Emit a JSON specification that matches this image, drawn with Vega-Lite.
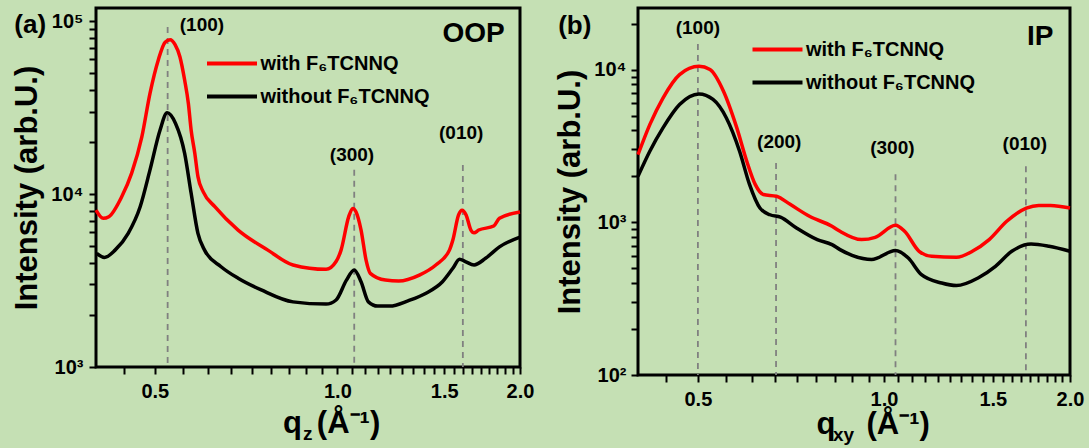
{
"$schema": "https://vega.github.io/schema/vega-lite/v6.json",
"background": "#c5e0b4",
"padding": {"left": 10, "top": 6, "right": 5, "bottom": 5},
"config": {
  "font": "Liberation Sans",
  "view": {"stroke": "#000000", "strokeWidth": 3},
  "axis": {"domain": false, "grid": false, "ticks": true, "tickSize": 7, "tickColor": "#000000", "tickWidth": 2,
    "labelFont": "Liberation Sans", "labelFontSize": 20, "labelFontWeight": "bold", "labelColor": "#000000",
    "labelOverlap": false, "labelBound": false, "labelFlush": false,
    "titleFont": "Liberation Sans", "titleFontSize": 31, "titleFontWeight": "bold", "titleColor": "#000000"},
  "legend": {"labelFont": "Liberation Sans", "labelFontSize": 20, "labelFontWeight": "bold", "labelColor": "#000000", "padding": 0, "labelLimit": 400}
},
"datasets": {
  "oop": [
    {"series": "with F₆TCNNQ", "q": 0.400, "I": 8070},
    {"series": "with F₆TCNNQ", "q": 0.411, "I": 7240},
    {"series": "with F₆TCNNQ", "q": 0.420, "I": 7400},
    {"series": "with F₆TCNNQ", "q": 0.441, "I": 9640},
    {"series": "with F₆TCNNQ", "q": 0.458, "I": 13200},
    {"series": "with F₆TCNNQ", "q": 0.476, "I": 21400},
    {"series": "with F₆TCNNQ", "q": 0.491, "I": 38200},
    {"series": "with F₆TCNNQ", "q": 0.507, "I": 60000},
    {"series": "with F₆TCNNQ", "q": 0.520, "I": 75500},
    {"series": "with F₆TCNNQ", "q": 0.530, "I": 78000},
    {"series": "with F₆TCNNQ", "q": 0.540, "I": 73000},
    {"series": "with F₆TCNNQ", "q": 0.550, "I": 62200},
    {"series": "with F₆TCNNQ", "q": 0.560, "I": 45600},
    {"series": "with F₆TCNNQ", "q": 0.568, "I": 33400},
    {"series": "with F₆TCNNQ", "q": 0.574, "I": 23400},
    {"series": "with F₆TCNNQ", "q": 0.582, "I": 17200},
    {"series": "with F₆TCNNQ", "q": 0.589, "I": 12600},
    {"series": "with F₆TCNNQ", "q": 0.601, "I": 10300},
    {"series": "with F₆TCNNQ", "q": 0.628, "I": 8450},
    {"series": "with F₆TCNNQ", "q": 0.686, "I": 6190},
    {"series": "with F₆TCNNQ", "q": 0.768, "I": 4740},
    {"series": "with F₆TCNNQ", "q": 0.845, "I": 3890},
    {"series": "with F₆TCNNQ", "q": 0.958, "I": 3670},
    {"series": "with F₆TCNNQ", "q": 0.995, "I": 4070},
    {"series": "with F₆TCNNQ", "q": 1.014, "I": 4740},
    {"series": "with F₆TCNNQ", "q": 1.044, "I": 7400},
    {"series": "with F₆TCNNQ", "q": 1.060, "I": 8260},
    {"series": "with F₆TCNNQ", "q": 1.073, "I": 7900},
    {"series": "with F₆TCNNQ", "q": 1.094, "I": 6190},
    {"series": "with F₆TCNNQ", "q": 1.115, "I": 4150},
    {"series": "with F₆TCNNQ", "q": 1.133, "I": 3480},
    {"series": "with F₆TCNNQ", "q": 1.200, "I": 3180},
    {"series": "with F₆TCNNQ", "q": 1.262, "I": 3140},
    {"series": "with F₆TCNNQ", "q": 1.365, "I": 3400},
    {"series": "with F₆TCNNQ", "q": 1.453, "I": 3890},
    {"series": "with F₆TCNNQ", "q": 1.530, "I": 4740},
    {"series": "with F₆TCNNQ", "q": 1.550, "I": 5420},
    {"series": "with F₆TCNNQ", "q": 1.584, "I": 7570},
    {"series": "with F₆TCNNQ", "q": 1.605, "I": 8070},
    {"series": "with F₆TCNNQ", "q": 1.630, "I": 7570},
    {"series": "with F₆TCNNQ", "q": 1.660, "I": 6190},
    {"series": "with F₆TCNNQ", "q": 1.680, "I": 5970},
    {"series": "with F₆TCNNQ", "q": 1.710, "I": 6190},
    {"series": "with F₆TCNNQ", "q": 1.810, "I": 6530},
    {"series": "with F₆TCNNQ", "q": 1.850, "I": 7240},
    {"series": "with F₆TCNNQ", "q": 2.000, "I": 7870},
    {"series": "without F₆TCNNQ", "q": 0.401, "I": 4540},
    {"series": "without F₆TCNNQ", "q": 0.413, "I": 4300},
    {"series": "without F₆TCNNQ", "q": 0.430, "I": 4740},
    {"series": "without F₆TCNNQ", "q": 0.452, "I": 5930},
    {"series": "without F₆TCNNQ", "q": 0.473, "I": 8450},
    {"series": "without F₆TCNNQ", "q": 0.491, "I": 13800},
    {"series": "without F₆TCNNQ", "q": 0.510, "I": 23400},
    {"series": "without F₆TCNNQ", "q": 0.524, "I": 29500},
    {"series": "without F₆TCNNQ", "q": 0.541, "I": 25600},
    {"series": "without F₆TCNNQ", "q": 0.560, "I": 17200},
    {"series": "without F₆TCNNQ", "q": 0.574, "I": 10100},
    {"series": "without F₆TCNNQ", "q": 0.589, "I": 5930},
    {"series": "without F₆TCNNQ", "q": 0.604, "I": 4740},
    {"series": "without F₆TCNNQ", "q": 0.643, "I": 3800},
    {"series": "without F₆TCNNQ", "q": 0.686, "I": 3260},
    {"series": "without F₆TCNNQ", "q": 0.749, "I": 2790},
    {"series": "without F₆TCNNQ", "q": 0.845, "I": 2380},
    {"series": "without F₆TCNNQ", "q": 0.958, "I": 2310},
    {"series": "without F₆TCNNQ", "q": 0.995, "I": 2440},
    {"series": "without F₆TCNNQ", "q": 1.035, "I": 3180},
    {"series": "without F₆TCNNQ", "q": 1.066, "I": 3640},
    {"series": "without F₆TCNNQ", "q": 1.094, "I": 3110},
    {"series": "without F₆TCNNQ", "q": 1.125, "I": 2380},
    {"series": "without F₆TCNNQ", "q": 1.165, "I": 2250},
    {"series": "without F₆TCNNQ", "q": 1.220, "I": 2250},
    {"series": "without F₆TCNNQ", "q": 1.310, "I": 2420},
    {"series": "without F₆TCNNQ", "q": 1.400, "I": 2670},
    {"series": "without F₆TCNNQ", "q": 1.490, "I": 3110},
    {"series": "without F₆TCNNQ", "q": 1.550, "I": 3720},
    {"series": "without F₆TCNNQ", "q": 1.590, "I": 4200},
    {"series": "without F₆TCNNQ", "q": 1.625, "I": 4070},
    {"series": "without F₆TCNNQ", "q": 1.680, "I": 3890},
    {"series": "without F₆TCNNQ", "q": 1.755, "I": 4250},
    {"series": "without F₆TCNNQ", "q": 1.850, "I": 4950},
    {"series": "without F₆TCNNQ", "q": 2.000, "I": 5640}
  ],
  "ip": [
    {"series": "with F₆TCNNQ", "q": 0.400, "I": 2770},
    {"series": "with F₆TCNNQ", "q": 0.418, "I": 4360},
    {"series": "with F₆TCNNQ", "q": 0.439, "I": 6510},
    {"series": "with F₆TCNNQ", "q": 0.467, "I": 9270},
    {"series": "with F₆TCNNQ", "q": 0.502, "I": 10500},
    {"series": "with F₆TCNNQ", "q": 0.523, "I": 10000},
    {"series": "with F₆TCNNQ", "q": 0.550, "I": 7210},
    {"series": "with F₆TCNNQ", "q": 0.578, "I": 4150},
    {"series": "with F₆TCNNQ", "q": 0.600, "I": 2500},
    {"series": "with F₆TCNNQ", "q": 0.619, "I": 1770},
    {"series": "with F₆TCNNQ", "q": 0.638, "I": 1520},
    {"series": "with F₆TCNNQ", "q": 0.670, "I": 1480},
    {"series": "with F₆TCNNQ", "q": 0.705, "I": 1310},
    {"series": "with F₆TCNNQ", "q": 0.759, "I": 1090},
    {"series": "with F₆TCNNQ", "q": 0.824, "I": 942},
    {"series": "with F₆TCNNQ", "q": 0.849, "I": 873},
    {"series": "with F₆TCNNQ", "q": 0.920, "I": 770},
    {"series": "with F₆TCNNQ", "q": 0.968, "I": 797},
    {"series": "with F₆TCNNQ", "q": 1.044, "I": 955},
    {"series": "with F₆TCNNQ", "q": 1.080, "I": 873},
    {"series": "with F₆TCNNQ", "q": 1.140, "I": 646},
    {"series": "with F₆TCNNQ", "q": 1.195, "I": 599},
    {"series": "with F₆TCNNQ", "q": 1.310, "I": 590},
    {"series": "with F₆TCNNQ", "q": 1.390, "I": 646},
    {"series": "with F₆TCNNQ", "q": 1.480, "I": 770},
    {"series": "with F₆TCNNQ", "q": 1.580, "I": 1015},
    {"series": "with F₆TCNNQ", "q": 1.700, "I": 1240},
    {"series": "with F₆TCNNQ", "q": 1.780, "I": 1290},
    {"series": "with F₆TCNNQ", "q": 1.860, "I": 1290},
    {"series": "with F₆TCNNQ", "q": 2.000, "I": 1240},
    {"series": "without F₆TCNNQ", "q": 0.400, "I": 2000},
    {"series": "without F₆TCNNQ", "q": 0.418, "I": 2920},
    {"series": "without F₆TCNNQ", "q": 0.439, "I": 4150},
    {"series": "without F₆TCNNQ", "q": 0.467, "I": 5900},
    {"series": "without F₆TCNNQ", "q": 0.502, "I": 6920},
    {"series": "without F₆TCNNQ", "q": 0.529, "I": 6370},
    {"series": "without F₆TCNNQ", "q": 0.556, "I": 4820},
    {"series": "without F₆TCNNQ", "q": 0.584, "I": 2920},
    {"series": "without F₆TCNNQ", "q": 0.606, "I": 1770},
    {"series": "without F₆TCNNQ", "q": 0.630, "I": 1240},
    {"series": "without F₆TCNNQ", "q": 0.654, "I": 1120},
    {"series": "without F₆TCNNQ", "q": 0.680, "I": 1080},
    {"series": "without F₆TCNNQ", "q": 0.722, "I": 918},
    {"series": "without F₆TCNNQ", "q": 0.780, "I": 770},
    {"series": "without F₆TCNNQ", "q": 0.824, "I": 714},
    {"series": "without F₆TCNNQ", "q": 0.849, "I": 662},
    {"series": "without F₆TCNNQ", "q": 0.888, "I": 608},
    {"series": "without F₆TCNNQ", "q": 0.955, "I": 570},
    {"series": "without F₆TCNNQ", "q": 1.044, "I": 653},
    {"series": "without F₆TCNNQ", "q": 1.095, "I": 583},
    {"series": "without F₆TCNNQ", "q": 1.150, "I": 454},
    {"series": "without F₆TCNNQ", "q": 1.240, "I": 400},
    {"series": "without F₆TCNNQ", "q": 1.310, "I": 385},
    {"series": "without F₆TCNNQ", "q": 1.420, "I": 432},
    {"series": "without F₆TCNNQ", "q": 1.515, "I": 515},
    {"series": "without F₆TCNNQ", "q": 1.610, "I": 646},
    {"series": "without F₆TCNNQ", "q": 1.730, "I": 721},
    {"series": "without F₆TCNNQ", "q": 1.850, "I": 697},
    {"series": "without F₆TCNNQ", "q": 2.000, "I": 646}
  ],
  "peaksA": [
    {"q": 0.525, "top": 92300},
    {"q": 1.066, "top": 13800},
    {"q": 1.610, "top": 14700}
  ],
  "peaksB": [
    {"q": 0.500, "top": 14700},
    {"q": 0.669, "top": 2440},
    {"q": 1.044, "top": 2060},
    {"q": 1.697, "top": 2330}
  ],
  "notesA": [
    {"kind": "peak", "text": "(100)", "q": 0.598, "I": 94900},
    {"kind": "peak", "text": "(300)", "q": 1.057, "I": 16800},
    {"kind": "peak", "text": "(010)", "q": 1.600, "I": 22500},
    {"kind": "panel", "text": "(a)", "q": 0.3116, "I": 94900},
    {"kind": "tag", "text": "OOP", "q": 1.677, "I": 84100},
    {"kind": "xq", "text": "q", "q": 0.843, "I": 415},
    {"kind": "xsub", "text": "z", "q": 0.894, "I": 378},
    {"kind": "xunit", "text": "(Å⁻¹)", "q": 0.925, "I": 415}
  ],
  "notesB": [
    {"kind": "peak", "text": "(100)", "q": 0.500, "I": 18600},
    {"kind": "peak", "text": "(200)", "q": 0.677, "I": 3340},
    {"kind": "peak", "text": "(300)", "q": 1.032, "I": 3050},
    {"kind": "peak", "text": "(010)", "q": 1.690, "I": 3240},
    {"kind": "panel", "text": "(b)", "q": 0.316, "I": 19200},
    {"kind": "tag", "text": "IP", "q": 1.790, "I": 16300},
    {"kind": "xq", "text": "q", "q": 0.806, "I": 40.9},
    {"kind": "xsub", "text": "xy", "q": 0.860, "I": 36.8},
    {"kind": "xunit", "text": "(Å⁻¹)", "q": 0.937, "I": 40.9}
  ]
},
"bounds": "flush",
"spacing": 118,
"resolve": {"scale": {"color": "independent"}, "legend": {"color": "independent"}},
"hconcat": [
  {
    "width": 424, "height": 359,
    "layer": [
      {"data": {"name": "peaksA"},
       "mark": {"type": "rule", "color": "#808080", "strokeWidth": 1.8, "strokeDash": [6, 5]},
       "encoding": {
         "x": {"field": "q", "type": "quantitative",
           "scale": {"type": "log", "domain": [0.4, 2], "nice": false},
           "axis": {"title": null,
             "values": [0.4444, 0.5, 0.5556, 0.6111, 0.6667, 0.7222, 0.7778, 0.8333, 0.8889, 0.9444, 1, 1.0556, 1.1111, 1.1667, 1.2222, 1.2778, 1.3333, 1.3889, 1.4444, 1.5, 1.5556, 1.6111, 1.6667, 1.7222, 1.7778, 1.8333, 1.8889, 1.9444, 2],
             "labelExpr": "indexof([0.5,1,1.5,2], datum.value) >= 0 ? format(datum.value, '.1f') : ''",
             "labelPadding": 7,
             "encode": {"ticks": {"y2": {"condition": {"test": "indexof([0.5,1,1.5,2], datum.value) >= 0", "value": -7}, "value": -4}}}}},
         "y": {"field": "top", "type": "quantitative",
           "scale": {"type": "log", "domain": [1000, 119000], "nice": false},
           "axis": {"title": "Intensity (arb.U.)",
             "values": [1000, 2000, 3000, 4000, 5000, 6000, 7000, 8000, 9000, 10000, 20000, 30000, 40000, 50000, 60000, 70000, 80000, 90000, 100000],
             "labelExpr": "datum.value == 1000 ? '10³' : datum.value == 10000 ? '10⁴' : datum.value == 100000 ? '10⁵' : ''",
             "labelPadding": 6, "titlePadding": 7,
             "encode": {"ticks": {"x2": {"condition": {"test": "indexof([1000,10000,100000], datum.value) >= 0", "value": 7}, "value": 4}}}}},
         "y2": {"datum": 1000}
       }},
      {"data": {"name": "oop"},
       "mark": {"type": "line", "strokeWidth": 3.5, "interpolate": "monotone"},
       "encoding": {
         "x": {"field": "q", "type": "quantitative"},
         "y": {"field": "I", "type": "quantitative"},
         "color": {"field": "series", "type": "nominal",
           "scale": {"domain": ["with F₆TCNNQ", "without F₆TCNNQ"], "range": ["#ff0000", "#000000"]},
           "legend": {"title": null, "orient": "none", "legendX": 121.5, "legendY": 41,
             "symbolType": "M-2,0H2", "symbolSize": 625, "symbolStrokeWidth": 4,
             "labelOffset": 14, "rowPadding": 8}}
       }},
      {"data": {"name": "notesA"}, "transform": [{"filter": "datum.kind == 'peak'"}],
       "mark": {"type": "text", "fontSize": 19, "fontWeight": "bold", "color": "#000000", "align": "center", "baseline": "middle"},
       "encoding": {"x": {"field": "q", "type": "quantitative"}, "y": {"field": "I", "type": "quantitative"}, "text": {"field": "text"}}},
      {"data": {"name": "notesA"}, "transform": [{"filter": "datum.kind == 'panel'"}],
       "mark": {"type": "text", "fontSize": 26, "fontWeight": "bold", "color": "#000000", "align": "center", "baseline": "middle"},
       "encoding": {"x": {"field": "q", "type": "quantitative"}, "y": {"field": "I", "type": "quantitative"}, "text": {"field": "text"}}},
      {"data": {"name": "notesA"}, "transform": [{"filter": "datum.kind == 'tag'"}],
       "mark": {"type": "text", "fontSize": 28, "fontWeight": "bold", "color": "#000000", "align": "center", "baseline": "middle"},
       "encoding": {"x": {"field": "q", "type": "quantitative"}, "y": {"field": "I", "type": "quantitative"}, "text": {"field": "text"}}},
      {"data": {"name": "notesA"}, "transform": [{"filter": "datum.kind == 'xq'"}],
       "mark": {"type": "text", "fontSize": 31, "fontWeight": "bold", "color": "#000000", "align": "center", "baseline": "alphabetic"},
       "encoding": {"x": {"field": "q", "type": "quantitative"}, "y": {"field": "I", "type": "quantitative"}, "text": {"field": "text"}}},
      {"data": {"name": "notesA"}, "transform": [{"filter": "datum.kind == 'xsub'"}],
       "mark": {"type": "text", "fontSize": 19, "fontWeight": "bold", "color": "#000000", "align": "center", "baseline": "alphabetic"},
       "encoding": {"x": {"field": "q", "type": "quantitative"}, "y": {"field": "I", "type": "quantitative"}, "text": {"field": "text"}}},
      {"data": {"name": "notesA"}, "transform": [{"filter": "datum.kind == 'xunit'"}],
       "mark": {"type": "text", "fontSize": 31, "fontWeight": "bold", "color": "#000000", "align": "left", "baseline": "alphabetic"},
       "encoding": {"x": {"field": "q", "type": "quantitative"}, "y": {"field": "I", "type": "quantitative"}, "text": {"field": "text"}}}
    ]
  },
  {
    "width": 432, "height": 367,
    "layer": [
      {"data": {"name": "peaksB"},
       "mark": {"type": "rule", "color": "#808080", "strokeWidth": 1.8, "strokeDash": [6, 5]},
       "encoding": {
         "x": {"field": "q", "type": "quantitative",
           "scale": {"type": "log", "domain": [0.4, 2], "nice": false},
           "axis": {"title": null,
             "values": [0.4444, 0.5, 0.5556, 0.6111, 0.6667, 0.7222, 0.7778, 0.8333, 0.8889, 0.9444, 1, 1.0556, 1.1111, 1.1667, 1.2222, 1.2778, 1.3333, 1.3889, 1.4444, 1.5, 1.5556, 1.6111, 1.6667, 1.7222, 1.7778, 1.8333, 1.8889, 1.9444, 2],
             "labelExpr": "indexof([0.5,1,1.5,2], datum.value) >= 0 ? format(datum.value, '.1f') : ''",
             "labelPadding": 7,
             "encode": {"ticks": {"y2": {"condition": {"test": "indexof([0.5,1,1.5,2], datum.value) >= 0", "value": -7}, "value": -4}}}}},
         "y": {"field": "top", "type": "quantitative",
           "scale": {"type": "log", "domain": [100, 25300], "nice": false},
           "axis": {"title": "Intensity (arb.U.)",
             "values": [100, 200, 300, 400, 500, 600, 700, 800, 900, 1000, 2000, 3000, 4000, 5000, 6000, 7000, 8000, 9000, 10000, 20000],
             "labelExpr": "datum.value == 100 ? '10²' : datum.value == 1000 ? '10³' : datum.value == 10000 ? '10⁴' : ''",
             "labelPadding": 5, "titlePadding": 7,
             "encode": {"ticks": {"x2": {"condition": {"test": "indexof([100,1000,10000], datum.value) >= 0", "value": 7}, "value": 4}}}}},
         "y2": {"datum": 100}
       }},
      {"data": {"name": "ip"},
       "mark": {"type": "line", "strokeWidth": 3.5, "interpolate": "monotone"},
       "encoding": {
         "x": {"field": "q", "type": "quantitative"},
         "y": {"field": "I", "type": "quantitative"},
         "color": {"field": "series", "type": "nominal",
           "scale": {"domain": ["with F₆TCNNQ", "without F₆TCNNQ"], "range": ["#ff0000", "#000000"]},
           "legend": {"title": null, "orient": "none", "legendX": 125, "legendY": 27,
             "symbolType": "M-2,0H2", "symbolSize": 625, "symbolStrokeWidth": 4,
             "labelOffset": 14, "rowPadding": 8}}
       }},
      {"data": {"name": "notesB"}, "transform": [{"filter": "datum.kind == 'peak'"}],
       "mark": {"type": "text", "fontSize": 19, "fontWeight": "bold", "color": "#000000", "align": "center", "baseline": "middle"},
       "encoding": {"x": {"field": "q", "type": "quantitative"}, "y": {"field": "I", "type": "quantitative"}, "text": {"field": "text"}}},
      {"data": {"name": "notesB"}, "transform": [{"filter": "datum.kind == 'panel'"}],
       "mark": {"type": "text", "fontSize": 26, "fontWeight": "bold", "color": "#000000", "align": "center", "baseline": "middle"},
       "encoding": {"x": {"field": "q", "type": "quantitative"}, "y": {"field": "I", "type": "quantitative"}, "text": {"field": "text"}}},
      {"data": {"name": "notesB"}, "transform": [{"filter": "datum.kind == 'tag'"}],
       "mark": {"type": "text", "fontSize": 28, "fontWeight": "bold", "color": "#000000", "align": "center", "baseline": "middle"},
       "encoding": {"x": {"field": "q", "type": "quantitative"}, "y": {"field": "I", "type": "quantitative"}, "text": {"field": "text"}}},
      {"data": {"name": "notesB"}, "transform": [{"filter": "datum.kind == 'xq'"}],
       "mark": {"type": "text", "fontSize": 31, "fontWeight": "bold", "color": "#000000", "align": "center", "baseline": "alphabetic"},
       "encoding": {"x": {"field": "q", "type": "quantitative"}, "y": {"field": "I", "type": "quantitative"}, "text": {"field": "text"}}},
      {"data": {"name": "notesB"}, "transform": [{"filter": "datum.kind == 'xsub'"}],
       "mark": {"type": "text", "fontSize": 19, "fontWeight": "bold", "color": "#000000", "align": "center", "baseline": "alphabetic"},
       "encoding": {"x": {"field": "q", "type": "quantitative"}, "y": {"field": "I", "type": "quantitative"}, "text": {"field": "text"}}},
      {"data": {"name": "notesB"}, "transform": [{"filter": "datum.kind == 'xunit'"}],
       "mark": {"type": "text", "fontSize": 31, "fontWeight": "bold", "color": "#000000", "align": "left", "baseline": "alphabetic"},
       "encoding": {"x": {"field": "q", "type": "quantitative"}, "y": {"field": "I", "type": "quantitative"}, "text": {"field": "text"}}}
    ]
  }
]
}
